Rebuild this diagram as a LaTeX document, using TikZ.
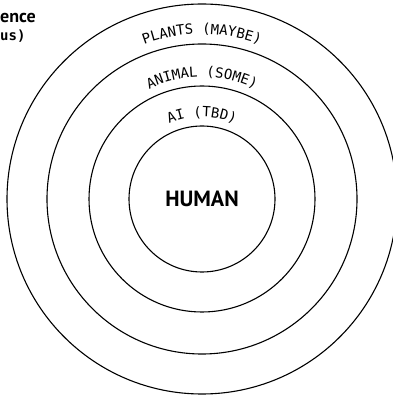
\documentclass[tikz,border=0pt]{standalone}
\usepackage{fontspec}
\usepackage{tikz}
\usetikzlibrary{decorations.text}
\newfontfamily\ringfont{DejaVu Sans Mono}
\newfontfamily\headfont{PT Sans}

\tikzset{
ring/.style={draw,circle,line width=1.1pt,inner sep=0pt},
ringtext/.style={decorate,decoration={text along path,text align=center,text={|\ringfont\fontsize{14}{14}\selectfont|#1}}}
}

\begin{document}
\begin{tikzpicture}[x=1pt,y=1pt]
\useasboundingbox (0,0) rectangle (393,397);
\draw
(202,198) node[ring,minimum size=390](plants){}
(202,198) node[ring,minimum size=310](animal){}
(202,198) node[ring,minimum size=226](ai){}
(202,198) node[ring,minimum size=146,font=\headfont\bfseries\fontsize{22}{22}\selectfont](human){HUMAN}
;
% labels between the rings
\path[ringtext={PLANTS (MAYBE)}] (human.center) ++(155:165) arc[start angle=155,end angle=25,radius=165];
\path[ringtext={ANIMAL (SOME)}] (human.center) ++(150:122) arc[start angle=150,end angle=30,radius=122];
\path[ringtext={AI (TBD)}] (human.center) ++(140:82) arc[start angle=140,end angle=40,radius=82];
% cut-off title
\node[anchor=base west,inner sep=0pt,font=\headfont\bfseries\fontsize{18}{18}\selectfont](title) at (0,374) {ence};
\node[anchor=base west,inner sep=0pt,font=\ringfont\bfseries\fontsize{14}{14}\selectfont](sub) at (0,356) {us)};
\end{tikzpicture}
\end{document}
